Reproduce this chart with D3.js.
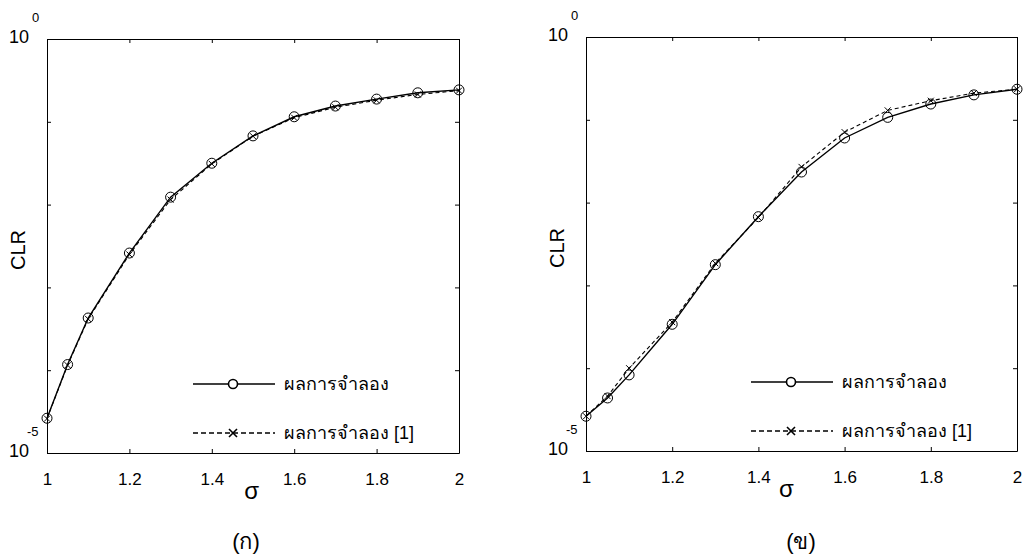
<!DOCTYPE html>
<meta charset="utf-8">
<style>
    body { margin: 0; background: #fff; font-family: Arial, "Liberation Sans", sans-serif; }
    .axis path, .axis line { stroke: #000; stroke-width: 1px; }
    .axis text { font-size: 17px; fill: #000; font-family: Arial, "Liberation Sans", sans-serif; }
    .sim { fill: none; stroke: #000; stroke-width: 1.4px; }
    .ref { fill: none; stroke: #000; stroke-width: 1.1px; stroke-dasharray: 4 3; }
</style>
<svg width="1025" height="556"></svg>
<script src="https://cdn.jsdelivr.net/npm/d3@7"></script>
<script>

    // sigma values where both curves were evaluated
    var sigma = [1, 1.05, 1.1, 1.2, 1.3, 1.4, 1.5, 1.6, 1.7, 1.8, 1.9, 2];

    // panel (ก)
    var simA = [2.63e-5, 1.17e-4, 4.27e-4, 2.6e-3, 1.23e-2, 3.16e-2, 6.76e-2, 0.115, 0.155, 0.188, 0.224, 0.243];
    var refA = [2.6e-5, 1.15e-4, 4.15e-4, 2.5e-3, 1.15e-2, 3.1e-2, 6.7e-2, 0.112, 0.15, 0.182, 0.214, 0.238];

    // panel (ข)
    var simB = [2.63e-5, 4.37e-5, 8.3e-5, 3.39e-4, 1.78e-3, 6.76e-3, 2.34e-2, 6.03e-2, 0.107, 0.155, 0.2, 0.234];
    var refB = [2.63e-5, 4.6e-5, 1.0e-4, 3.6e-4, 1.85e-3, 6.6e-3, 2.7e-2, 7.1e-2, 0.13, 0.17, 0.21, 0.234];

    var xTicks = [1, 1.2, 1.4, 1.6, 1.8, 2];
    var yLabels = [[1, "0"], [1e-5, "-5"]];
    var legendLabels = ["ผลการจำลอง", "ผลการจำลอง [1]"];
    var panelLabels = ["(ก)", "(ข)"];

    var svg = d3.select("svg");

    var panels = [
        {left: 47, right: 459, top: 39, bottom: 453, sim: simA, ref: refA, label: panelLabels[0], sx: 1.497, lblX: 246},
        {left: 586, right: 1017, top: 37, bottom: 451, sim: simB, ref: refB, label: panelLabels[1], sx: 1.465, lblX: 801}
    ];

    panels.forEach(function(p) {
        var w = p.right - p.left, h = p.bottom - p.top;
        var g = svg.append("g").attr("transform", "translate(" + p.left + "," + p.top + ")");

        var x = d3.scaleLinear().domain([1, 2]).range([0, w]);
        var y = d3.scaleLog().domain([1e-5, 1]).range([h, 0]);
        var decades = [1e-5, 1e-4, 1e-3, 1e-2, 1e-1, 1];

        // box with inward ticks
        g.append("g").attr("class", "axis")
            .attr("transform", "translate(0," + h + ")")
            .call(d3.axisBottom(x).tickValues(xTicks).tickSizeInner(-4).tickSizeOuter(0)
                .tickPadding(20).tickFormat(d3.format("")));
        g.append("g").attr("class", "axis")
            .call(d3.axisTop(x).tickValues(xTicks).tickSizeInner(-4).tickSizeOuter(0).tickFormat(""));
        g.append("g").attr("class", "axis")
            .call(d3.axisLeft(y).tickValues(decades).tickSizeInner(-4).tickSizeOuter(0).tickFormat(""));
        g.append("g").attr("class", "axis")
            .attr("transform", "translate(" + w + ",0)")
            .call(d3.axisRight(y).tickValues(decades).tickSizeInner(-4).tickSizeOuter(0).tickFormat(""));

        // y tick labels 10^0 and 10^-5 (base and exponent as separate texts)
        yLabels.forEach(function(t) {
            var ty = y(t[0]);
            g.append("text").attr("x", -18).attr("y", ty + 4)
                .attr("text-anchor", "end").style("font-size", "18px").text("10");
            g.append("text").attr("x", t[1] === "0" ? -15 : -20).attr("y", ty - 17)
                .style("font-size", "13px").text(t[1]);
        });

        // axis titles
        g.append("text")
            .attr("transform", "translate(-22," + (h / 2 + 4) + ") rotate(-90)")
            .attr("text-anchor", "middle")
            .style("font-size", "20px")
            .text("CLR");
        g.append("text")
            .attr("x", x(p.sx)).attr("y", h + 46)
            .attr("text-anchor", "middle")
            .style("font-size", "24px")
            .text("σ");

        var line = d3.line()
            .x(function(d) { return x(d[0]); })
            .y(function(d) { return y(d[1]); });

        var simPts = sigma.map(function(s, i) { return [s, p.sim[i]]; });
        var refPts = sigma.map(function(s, i) { return [s, p.ref[i]]; });

        g.append("path").attr("class", "ref").attr("d", line(refPts));
        g.append("path").attr("class", "sim").attr("d", line(simPts));

        // x markers for ref
        g.selectAll(".xm").data(refPts).enter().append("path")
            .attr("class", "xm")
            .attr("transform", function(d) { return "translate(" + x(d[0]) + "," + y(d[1]) + ")"; })
            .attr("d", "M-3,-3L3,3M-3,3L3,-3")
            .attr("stroke", "#000").attr("stroke-width", 1);

        // circle markers for sim
        g.selectAll(".cm").data(simPts).enter().append("circle")
            .attr("class", "cm")
            .attr("cx", function(d) { return x(d[0]); })
            .attr("cy", function(d) { return y(d[1]); })
            .attr("r", 5)
            .attr("fill", "none").attr("stroke", "#000").attr("stroke-width", 1);

        // legend
        var lx = w - 266, ly1 = h - 69, ly2 = h - 20;
        var leg = g.append("g");
        leg.append("line").attr("x1", lx).attr("x2", lx + 82).attr("y1", ly1).attr("y2", ly1)
            .attr("stroke", "#000").attr("stroke-width", 1.6);
        leg.append("circle").attr("cx", lx + 40).attr("cy", ly1).attr("r", 4.5)
            .attr("fill", "#fff").attr("stroke", "#000").attr("stroke-width", 1.6);
        leg.append("line").attr("x1", lx).attr("x2", lx + 82).attr("y1", ly2).attr("y2", ly2)
            .attr("stroke", "#000").attr("stroke-width", 1.4).attr("stroke-dasharray", "5 3");
        leg.append("path").attr("transform", "translate(" + (lx + 40) + "," + ly2 + ")")
            .attr("d", "M-4,-4L4,4M-4,4L4,-4").attr("stroke", "#000").attr("stroke-width", 1.6);
        leg.append("text").attr("x", lx + 91).attr("y", ly1 + 6).style("font-size", "18px").text(legendLabels[0]);
        leg.append("text").attr("x", lx + 91).attr("y", ly2 + 6).style("font-size", "18px").text(legendLabels[1]);

        // panel label
        svg.append("text")
            .attr("x", p.lblX)
            .attr("y", 549)
            .attr("text-anchor", "middle")
            .style("font-size", "22px")
            .text(p.label);
    });

</script>
